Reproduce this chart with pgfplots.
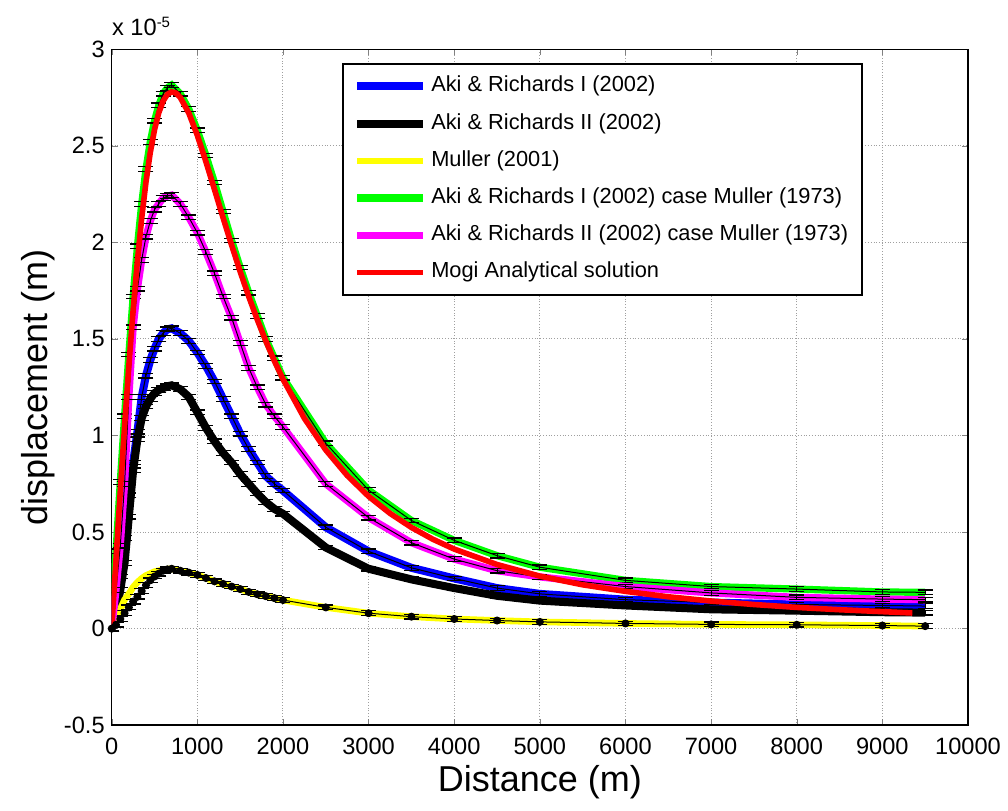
\documentclass[border=0pt]{standalone}
\usepackage{fontspec}
\setmainfont{Liberation Sans}
\usepackage{pgfplots}
\usepackage{pgfplotstable}
\pgfplotsset{compat=1.18}

\definecolor{mblue}{RGB}{0,0,255}
\definecolor{mgreen}{RGB}{0,255,0}
\definecolor{myellow}{RGB}{255,255,0}
\definecolor{mmag}{RGB}{255,0,255}
\definecolor{mred}{RGB}{255,0,0}

% displacement values in units of 1e-5 m
\pgfplotstableread{
x    blue   blk    yel    ydot   green  mag
0    0      0      0      0      0      0
50   0.10   0.08   0.05   0.02   0.40   0.20
100  0.27   0.20   0.10   0.05   0.76   0.43
150  0.47   0.34   0.15   0.08   1.10   0.75
200  0.69   0.58   0.18   0.11   1.42   1.20
250  0.86   0.82   0.215  0.14   1.72   1.56
300  1.02   0.98   0.24   0.165  1.98   1.76
350  1.20   1.09   0.26   0.195  2.20   1.91
400  1.31   1.15   0.275  0.225  2.38   2.03
450  1.39   1.19   0.285  0.25   2.52   2.11
500  1.45   1.22   0.295  0.27   2.63   2.17
550  1.50   1.235  0.30   0.285  2.71   2.20
600  1.53   1.245  0.305  0.30   2.77   2.23
650  1.55   1.255  0.308  0.307  2.80   2.24
700  1.555  1.26   0.31   0.31   2.815  2.245
800  1.53   1.24   0.30   0.30   2.77   2.20
900  1.49   1.20   0.29   0.29   2.69   2.13
1000 1.43   1.12   0.278  0.278  2.58   2.05
1100 1.36   1.04   0.262  0.262  2.45   1.95
1200 1.28   0.97   0.245  0.245  2.31   1.84
1300 1.19   0.91   0.232  0.232  2.16   1.72
1400 1.10   0.86   0.218  0.218  2.01   1.61
1500 1.01   0.80   0.205  0.205  1.87   1.48
1600 0.93   0.75   0.19   0.19   1.74   1.35
1700 0.86   0.70   0.178  0.178  1.62   1.25
1800 0.79   0.655  0.168  0.168  1.50   1.16
1900 0.75   0.62   0.158  0.158  1.40   1.10
2000 0.715  0.595  0.148  0.148  1.30   1.045
2500 0.525  0.42   0.11   0.11   0.96   0.75
3000 0.40   0.31   0.08   0.08   0.717  0.575
3500 0.315  0.255  0.062  0.062  0.56   0.445
4000 0.26   0.21   0.05   0.05   0.457  0.36
4500 0.21   0.17   0.042  0.042  0.378  0.30
5000 0.18   0.145  0.035  0.035  0.318  0.268
6000 0.15   0.12   0.027  0.027  0.25   0.218
7000 0.135  0.10   0.022  0.022  0.218  0.185
8000 0.125  0.093  0.02   0.02   0.205  0.162
9000 0.12   0.085  0.016  0.016  0.19   0.153
9500 0.117  0.083  0.013  0.013  0.188  0.150
}\datatab

\pgfplotstableread{
x    mogi
0    0
50   0.360
100  0.711
150  1.048
200  1.362
250  1.649
300  1.904
350  2.126
400  2.313
450  2.465
500  2.584
550  2.672
600  2.732
650  2.767
700  2.780
750  2.773
800  2.751
900  2.670
1000 2.554
1100 2.418
1200 2.274
1300 2.128
1400 1.986
1500 1.849
1600 1.720
1700 1.600
1800 1.489
1900 1.386
2000 1.292
2250 1.089
2500 0.925
2750 0.793
3000 0.685
3250 0.597
3500 0.524
3750 0.463
4000 0.412
4500 0.332
5000 0.272
5500 0.227
6000 0.193
6500 0.165
7000 0.143
7500 0.125
8000 0.110
8500 0.098
9000 0.088
9350 0.081
}\mogitab

\pgfplotsset{
  errstyle/.style={black, line width=0.5pt, forget plot,
    error bars/.cd, y dir=both, y fixed=0.012,
    error mark=|,
    error bar style={line width=0.5pt, black},
    error mark options={black, mark size=3.75pt, line width=0.6pt}}
}

\begin{document}
\begin{tikzpicture}
\begin{axis}[
  scale only axis, width=428pt, height=337.85pt,
  xmin=0, xmax=10000, ymin=-0.5, ymax=3,
  xtick={0,1000,...,10000}, ytick={-0.5,0,...,3},
  scaled x ticks=false, scaled y ticks=false,
  /pgf/number format/assume math mode=true,
  /pgf/number format/1000 sep={},
  tick label style={font=\fontsize{11.8}{14}\selectfont, text=black},
  xticklabel style={yshift=-3pt},
  tick align=inside, tick pos=both, major tick length=3pt,
  grid=major, grid style={densely dotted, gray!75, line width=0.5pt},
  axis line style={line width=0.7pt},
  xlabel={Distance (m)}, ylabel={displacement (m)},
  label style={font=\fontsize{18}{21}\selectfont},
  xlabel style={at={(axis description cs:0.5,-0.0844)}, anchor=center},
  ylabel style={at={(axis description cs:-0.0861,0.5)}, anchor=center},
  legend cell align=left,
  legend image code/.code={\draw[#1] (0pt,0pt) -- (33pt,0pt);},
  legend style={at={(0.8774,0.9797)}, anchor=north east, draw=black,
    line width=0.8pt, fill=white, font=\fontsize{10.9}{13}\selectfont,
    inner xsep=5pt, inner ysep=2pt, row sep=0pt,
    nodes={inner xsep=2pt, inner ysep=4pt, text height=8pt, text depth=2.6pt}},
]
\addplot[color=mblue, line width=4pt] table[x=x, y=blue] {\datatab};
\addlegendentry{Aki \& Richards I (2002)}
\addplot[errstyle] table[x=x, y=blue] {\datatab};

\addplot[color=black, line width=4pt] table[x=x, y=blk] {\datatab};
\addlegendentry{Aki \& Richards II (2002)}
\addplot[errstyle] table[x=x, y=blk] {\datatab};

\addplot[color=myellow, line width=3.3pt] table[x=x, y=yel] {\datatab};
\addlegendentry{Muller (2001)}
\addplot[mark=*, mark size=1.75pt, mark options={black, solid}, errstyle] table[x=x, y=ydot] {\datatab};

\addplot[color=mgreen, line width=3.6pt] table[x=x, y=green] {\datatab};
\addlegendentry{Aki \& Richards I (2002) case Muller (1973)}
\addplot[errstyle] table[x=x, y=green] {\datatab};

\addplot[color=mmag, line width=3.6pt] table[x=x, y=mag] {\datatab};
\addlegendentry{Aki \& Richards II (2002) case Muller (1973)}
\addplot[errstyle] table[x=x, y=mag] {\datatab};

\addplot[color=mred, line width=2.8pt] table[x=x, y=mogi] {\mogitab};
\addlegendentry{Mogi Analytical solution}
\end{axis}
\node[anchor=base west, inner sep=0pt, font=\fontsize{11.8}{14}\selectfont]
  at ([yshift=6.65pt]current axis.north west) {x 10\raisebox{4pt}{\fontsize{7.5}{9}\selectfont -5}};
\pgfresetboundingbox
\path[use as bounding box] ([shift={(-55.85pt,-42.5pt)}]current axis.south west) rectangle ([shift={(20pt,24.65pt)}]current axis.north east);
\end{tikzpicture}
\end{document}
